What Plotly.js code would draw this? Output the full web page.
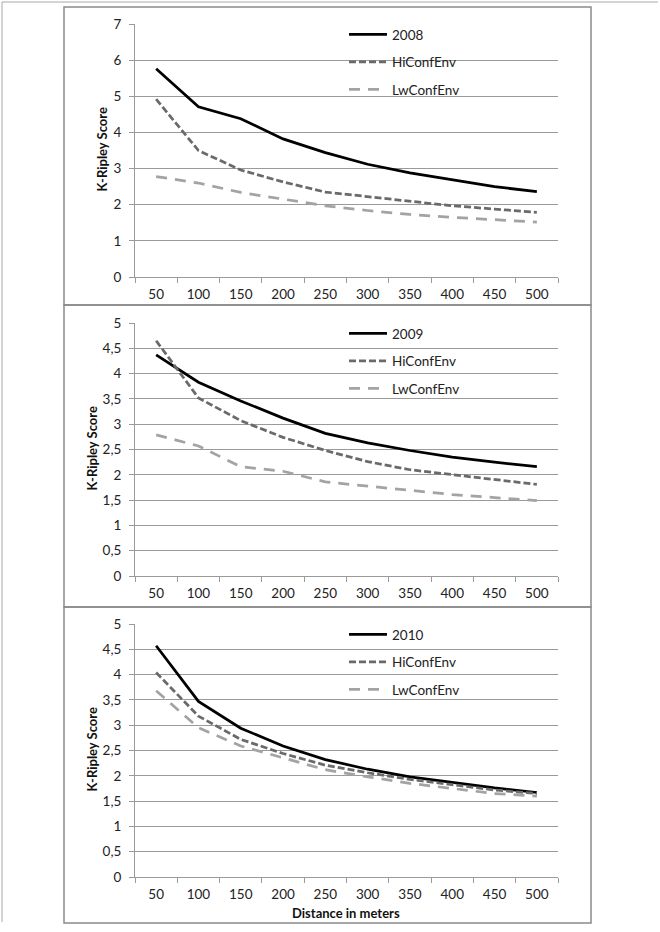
<!DOCTYPE html>
<html>
<head>
<meta charset="utf-8">
<script src="https://cdn.plot.ly/plotly-3.0.1.min.js"></script>
<style>html,body{margin:0;padding:0;background:#fff;}#chart{width:660px;height:932px;}</style>
</head>
<body>
<div id="chart"></div>
<script>
// ---- data ----
var distances = ["50","100","150","200","250","300","350","400","450","500"];

var y2008     = [5.76, 4.71, 4.38, 3.82, 3.44, 3.12, 2.88, 2.69, 2.50, 2.36];
var hi2008    = [4.92, 3.50, 2.96, 2.63, 2.35, 2.22, 2.08, 1.97, 1.88, 1.79];
var lw2008    = [2.78, 2.60, 2.34, 2.15, 1.97, 1.84, 1.73, 1.65, 1.58, 1.52];

var y2009     = [4.37, 3.83, 3.46, 3.12, 2.82, 2.63, 2.48, 2.35, 2.25, 2.16];
var hi2009    = [4.65, 3.52, 3.07, 2.74, 2.48, 2.26, 2.10, 2.00, 1.90, 1.81];
var lw2009    = [2.79, 2.57, 2.16, 2.07, 1.86, 1.78, 1.70, 1.61, 1.55, 1.49];

var y2010     = [4.57, 3.47, 2.94, 2.59, 2.32, 2.13, 1.98, 1.87, 1.76, 1.67];
var hi2010    = [4.04, 3.18, 2.72, 2.44, 2.21, 2.06, 1.93, 1.82, 1.72, 1.65];
var lw2010    = [3.68, 2.95, 2.59, 2.36, 2.12, 1.98, 1.85, 1.75, 1.65, 1.60];

var yearNames = ["2008", "2009", "2010"];
var hiName = "HiConfEnv";
var lwName = "LwConfEnv";
var yTitle = "K-Ripley Score";
var xTitle = "Distance in meters";

// ---- styles ----
var W = 660, H = 932;
var FONT = "Lato, 'Open Sans', sans-serif";
var gridCol = "#9a9a9a";
var blackLine = {color: "#000000", width: 2.75};
var hiLine = {color: "#6a6a6a", width: 2.75, dash: "7px,3px"};
var lwLine = {color: "#a3a3a3", width: 2.75, dash: "11px,8px"};

function py(p) { return 1 - p / H; }
function px(p) { return p / W; }

var sets = [
  {year: yearNames[0], main: y2008, hi: hi2008, lw: lw2008},
  {year: yearNames[1], main: y2009, hi: hi2009, lw: lw2009},
  {year: yearNames[2], main: y2010, hi: hi2010, lw: lw2010}
];

var traces = [];
sets.forEach(function (s, i) {
  var n = i + 1;
  var xa = n === 1 ? "x" : "x" + n;
  var ya = n === 1 ? "y" : "y" + n;
  var lg = n === 1 ? "legend" : "legend" + n;
  traces.push({x: distances, y: s.main, name: s.year, type: "scatter", mode: "lines",
    line: blackLine, xaxis: xa, yaxis: ya, legend: lg, legendgroup: "a" + n, hoverinfo: "skip"});
  traces.push({x: distances, y: s.hi, name: hiName, type: "scatter", mode: "lines",
    line: hiLine, xaxis: xa, yaxis: ya, legend: lg, legendgroup: "b" + n, hoverinfo: "skip"});
  traces.push({x: distances, y: s.lw, name: lwName, type: "scatter", mode: "lines",
    line: lwLine, xaxis: xa, yaxis: ya, legend: lg, legendgroup: "c" + n, hoverinfo: "skip"});
});

// plot area pixel boxes [top, bottom]
var plotBoxes = [[24, 277], [323, 576], [624, 877]];
var panelBoxes = [[7, 305], [305, 607], [607, 923]];
var titleX = [101, 91, 91];
var xDom = [px(135), px(558)];
var yRanges = [[0, 7], [0, 5], [0, 5]];
var yDticks = [1, 0.5, 0.5];

var layout = {
  width: W, height: H,
  margin: {l: 0, r: 0, t: 0, b: 0},
  paper_bgcolor: "#ffffff", plot_bgcolor: "rgba(0,0,0,0)",
  separators: ", ",
  font: {family: FONT, size: 13, color: "#222222"},
  showlegend: true,
  shapes: [], annotations: []
};

plotBoxes.forEach(function (b, i) {
  var n = i + 1;
  var xk = n === 1 ? "xaxis" : "xaxis" + n;
  var yk = n === 1 ? "yaxis" : "yaxis" + n;
  var yref = n === 1 ? "y" : "y" + n;
  var xref = n === 1 ? "x" : "x" + n;
  layout[xk] = {
    domain: xDom, anchor: yref, type: "category", range: [-0.5, 9.5],
    showgrid: false, zeroline: false, showline: true, linecolor: gridCol, linewidth: 1,
    ticks: "outside", tickson: "boundaries", ticklen: 5, tickcolor: gridCol, tickwidth: 1,
    ticklabelstandoff: 5, tickfont: {family: FONT, size: 13.5, color: "#222"},
    automargin: false, fixedrange: true
  };
  layout[yk] = {
    domain: [py(b[1]), py(b[0])], anchor: xref, range: yRanges[i], dtick: yDticks[i], tick0: 0,
    showgrid: true, gridcolor: gridCol, gridwidth: 1, zeroline: false,
    showline: true, linecolor: gridCol, linewidth: 1,
    ticks: "outside", ticklen: 5, tickcolor: gridCol, tickwidth: 1,
    ticklabelstandoff: 5, tickfont: {family: FONT, size: 13.5, color: "#222"},
    automargin: false, fixedrange: true
  };
  var lk = n === 1 ? "legend" : "legend" + n;
  layout[lk] = {
    x: px(344), y: py(b[0] - 5), xanchor: "left", yanchor: "top",
    xref: "paper", yref: "paper",
    bgcolor: "rgba(0,0,0,0)", borderwidth: 0,
    font: {family: FONT, size: 13.5, color: "#222"},
    traceorder: "grouped", tracegroupgap: 7, itemwidth: 38
  };
  layout.annotations.push({
    text: "<b>" + yTitle + "</b>", textangle: -90,
    xref: "paper", yref: "paper", x: px(titleX[i]), y: py((b[0] + b[1]) / 2 - 1),
    xanchor: "center", yanchor: "middle", showarrow: false,
    font: {family: FONT, size: 13, color: "#111"}
  });
});

layout.annotations.push({
  text: "<b>" + xTitle + "</b>", xref: "paper", yref: "paper",
  x: px(346), y: py(913), xanchor: "center", yanchor: "middle", showarrow: false,
  font: {family: FONT, size: 13, color: "#111"}
});

// outer frame (left and top edges)
layout.shapes.push({type: "line", xref: "paper", yref: "paper", x0: px(2), x1: px(2), y0: py(2), y1: py(922),
  line: {color: "#a8a8a8", width: 1}});
layout.shapes.push({type: "line", xref: "paper", yref: "paper", x0: px(2), x1: px(658), y0: py(2), y1: py(2),
  line: {color: "#a8a8a8", width: 1}});
// panel borders
panelBoxes.forEach(function (p) {
  layout.shapes.push({type: "rect", xref: "paper", yref: "paper",
    x0: px(64), x1: px(591), y0: py(p[1]), y1: py(p[0]),
    line: {color: "#8a8a8a", width: 1.5}, fillcolor: "rgba(0,0,0,0)", layer: "below"});
});

Plotly.newPlot("chart", traces, layout, {staticPlot: true, displayModeBar: false});
</script>
</body>
</html>
